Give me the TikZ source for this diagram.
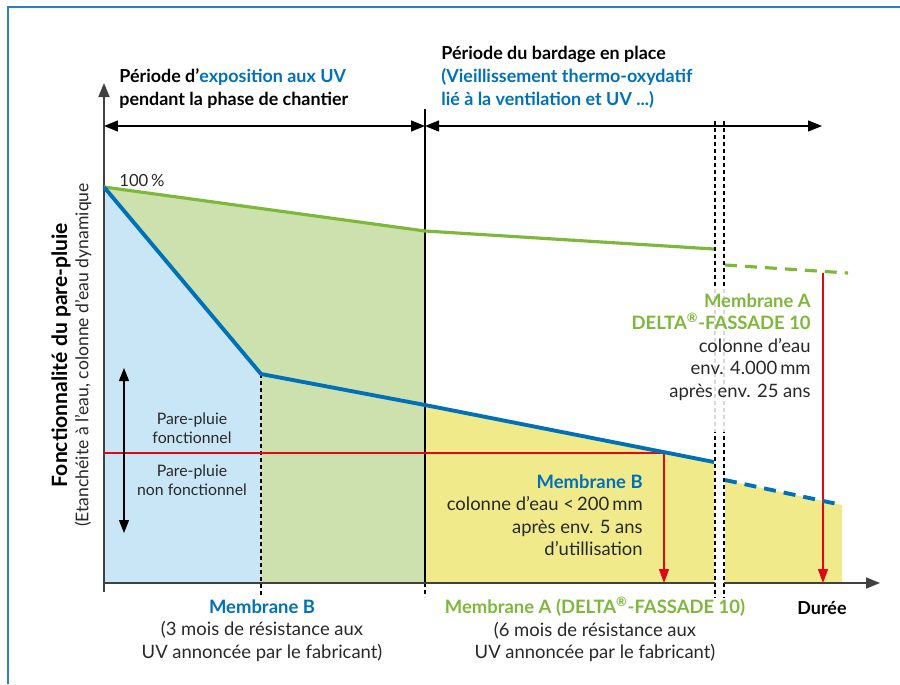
\documentclass[tikz,border=0pt]{standalone}
\usepackage{fontspec}
\setmainfont{Lato}
\usepackage{tikz}
\usetikzlibrary{arrows.meta}
\usetikzlibrary{positioning}

\definecolor{uvblue}{RGB}{0,112,184}
\definecolor{agreen}{RGB}{125,184,58}
\definecolor{fillblue}{RGB}{201,230,247}
\definecolor{fillgreen}{RGB}{204,225,174}
\definecolor{fillyellow}{RGB}{240,234,138}
\definecolor{limitred}{RGB}{227,6,19}
\definecolor{frameblue}{RGB}{47,126,192}
\definecolor{txtgray}{RGB}{40,40,40}

\tikzset{
  axisline/.style={draw=black!75, line width=0.9pt},
  spanarrow/.style={black, line width=0.7pt, {Triangle[length=2.8mm,width=2.2mm]}-{Triangle[length=2.8mm,width=2.2mm]}},
  guide/.style={black, line width=0.6pt, dash pattern=on 0.8mm off 0.6mm},
  limitarrow/.style={limitred, line width=0.7pt, -{Triangle[length=2.8mm,width=2mm]}},
  curveA/.style={agreen, line width=1.8pt},
  curveB/.style={uvblue, line width=2.2pt},
  forecast/.style={dash pattern=on 2.4mm off 1.6mm},
  bodytxt/.style={text=txtgray, inner sep=0pt, font=\fontsize{10.5}{12.8}\selectfont},
  headtxt/.style={inner sep=0pt, font=\bfseries\fontsize{10.2}{13}\selectfont}
}

\begin{document}
\begin{tikzpicture}[x=0.02cm, y=-0.02cm]
  \useasboundingbox (0,0) rectangle (900,684);

  % frame
  \draw[frameblue, line width=1.2pt] (8,684) -- (8,7) -- (900,7);

  % curve points
  \coordinate (start) at (104,187);
  \coordinate (kneeB) at (261,374);
  \coordinate (endUVB) at (425,405);
  \coordinate (endUVA) at (425,231);
  \coordinate (cutB) at (714,462);
  \coordinate (cutA) at (714,249);
  \coordinate (restB) at (725,480);
  \coordinate (restA) at (725,265);
  \coordinate (lastB) at (842,505);
  \coordinate (lastA) at (848,273);

  % fills
  \fill[fillblue] (start) -- (kneeB) -- (261,583) -- (104,583) -- cycle;
  \fill[fillgreen] (start) -- (endUVA) -- (425,583) -- (261,583) -- (kneeB) -- cycle;
  \fill[fillyellow] (endUVB) -- (cutB) -- (714,583) -- (425,583) -- cycle;
  \fill[fillyellow] (restB) -- (lastB) -- (842,583) -- (725,583) -- cycle;

  % phase limits
  \coordinate (uvtop) at (425,109);
  \coordinate (uvbot) at (425,583);
  \draw[black, line width=0.6pt] (uvtop) -- (uvbot);
  \draw[guide] (uvbot) -- (425,597);
  \draw[guide] (kneeB) -- (261,597);
  \draw[guide] (715,121) -- (715,597);
  \draw[guide] (724,121) -- (724,597);
  \fill[white, opacity=0.85] (709,286) rectangle (730,432);

  % axes
  \coordinate (origin) at (104,583);
  \coordinate (ytip) at (104,83);
  \coordinate (xtip) at (880,583);
  \draw[axisline, -{Triangle[length=2.8mm,width=2.2mm]}] (104,592) -- (ytip);
  \draw[axisline] (origin) -- (715,583);
  \draw[axisline, -{Triangle[length=2.8mm,width=2.2mm]}] (724,583) -- (xtip);

  % periods
  \coordinate (spanL) at (104,126);
  \coordinate (spanM) at (425,126);
  \coordinate (spanR) at (822,126);
  \draw[spanarrow] (spanL) -- (spanM);
  \draw[spanarrow] (spanM) -- (spanR);

  % threshold
  \coordinate (limitL) at (104,453);
  \coordinate (limitB) at (664,453);
  \coordinate (groundB) at (664,583);
  \coordinate (limitA) at (823,273);
  \coordinate (groundA) at (823,583);
  \draw[limitred, line width=0.7pt] (limitL) -- (limitB);
  \draw[limitarrow] (limitB) -- (groundB);
  \draw[limitarrow] (limitA) -- (groundA);

  % curves
  \draw[curveA] (start) -- (endUVA) -- (cutA);
  \draw[curveA, forecast] (restA) -- (lastA);
  \draw[curveB, line join=round] (start) -- (kneeB) -- (endUVB) -- (cutB);
  \draw[curveB, forecast] (restB) -- (lastB);

  % range arrow
  \coordinate (rangetop) at (124,368);
  \coordinate (rangebot) at (124,533);
  \draw[black, line width=0.7pt, {Triangle[length=2.6mm,width=2mm]}-{Triangle[length=2.6mm,width=2mm]}] (rangetop) -- (rangebot);

  % labels
  \node[bodytxt, anchor=west, font=\fontsize{9.5}{11}\selectfont] (full) at (119,181) {100\,\%};
  \node[bodytxt, align=center, font=\fontsize{9}{11}\selectfont] (ok) at (192,428) {Pare-pluie\\fonctionnel};
  \node[bodytxt, align=center, font=\fontsize{9}{11}\selectfont] (notok) at (192,480) {Pare-pluie\\non fonctionnel};

  \node[headtxt, anchor=north west, align=left] (uvhead) at (119,68)
    {Période d’\textcolor{uvblue}{exposition aux UV}\\pendant la phase de chantier};
  \node[headtxt, anchor=north west, align=left] (cladhead) at (441,46)
    {Période du bardage en place\\\textcolor{uvblue}{(Vieillissement thermo-oxydatif}\\\textcolor{uvblue}{lié à la ventilation et UV ...)}};

  \node[bodytxt, anchor=north east, align=right] (noteA) at (811,293)
    {\textcolor{agreen}{\bfseries Membrane A}\\\textcolor{agreen}{\bfseries DELTA\textsuperscript{®}-FASSADE 10}\\colonne d’eau\\env. 4.000\,mm\\après env. 25 ans};
  \node[bodytxt, anchor=north east, align=right] (noteB) at (643,474)
    {\textcolor{uvblue}{\bfseries Membrane B}\\colonne d’eau <\,200\,mm\\après env. 5 ans\\d’utillisation};

  \node[bodytxt, anchor=north, align=center] (uvB) at (262,599)
    {\textcolor{uvblue}{\bfseries Membrane B}\\(3 mois de résistance aux\\UV annoncée par le fabricant)};
  \node[bodytxt, anchor=north, align=center] (uvA) at (595,597)
    {\textcolor{agreen}{\bfseries Membrane A (DELTA\textsuperscript{®}-FASSADE 10)}\\(6 mois de résistance aux\\UV annoncée par le fabricant)};
  \node[headtxt] (time) at (822,608) {Durée};

  \node[inner sep=0pt, rotate=90, font=\bfseries\fontsize{12}{14}\selectfont] (ylabel) at (61,355) {Fonctionnalité du pare-pluie};
  \node[bodytxt, rotate=90, font=\fontsize{10}{12}\selectfont] (ysub) at (83,355) {(Etanchéite à l’eau, colonne d’eau dynamique};
\end{tikzpicture}
\end{document}
